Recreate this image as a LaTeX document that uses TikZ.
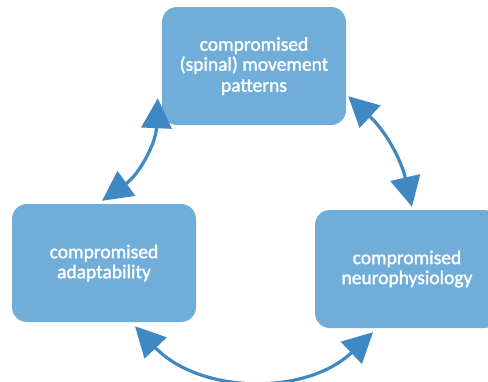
\documentclass[tikz,border=0pt]{standalone}
\usepackage{fontspec}
\setmainfont{Carlito}[FakeBold=1.6]
\usetikzlibrary{arrows.meta}
\definecolor{boxblue}{RGB}{112,173,217}
\definecolor{arrblue}{RGB}{62,136,196}
\begin{document}
\begin{tikzpicture}[x=1pt,y=-1pt,
  box/.style={rectangle,rounded corners=15pt,fill=boxblue,draw=none,
    minimum width=184pt,minimum height=118pt,text=white,align=center,
    font=\fontsize{19.5}{20}\selectfont},
  tipa/.tip={Triangle[length=30pt,width=30pt]},
  arr/.style={draw=arrblue,line width=3.2pt,tipa-tipa}]
\useasboundingbox (0,0) rectangle (488,381);
\clip (0,0) rectangle (488,381);
\node[box] (top) at (254,66) {compromised\\(spinal) movement\\[1pt]patterns};
\node[box] (left) at (104,263) {compromised\\adaptability};
\node[box] (right) at (407,269) {compromised\\neurophysiology};
\draw[arr] ([shift={(-4,-27)}]top.south west) to[bend left=26] ([shift={(-2,-3)}]left.north);
\draw[arr] ([shift={(2,-29)}]top.south east) to[bend left=17] ([shift={(5,-3)}]right.north);
\draw[arr] ([shift={(31,4)}]left.south) to[bend right=45] ([shift={(-34,4)}]right.south);
\end{tikzpicture}
\end{document}
